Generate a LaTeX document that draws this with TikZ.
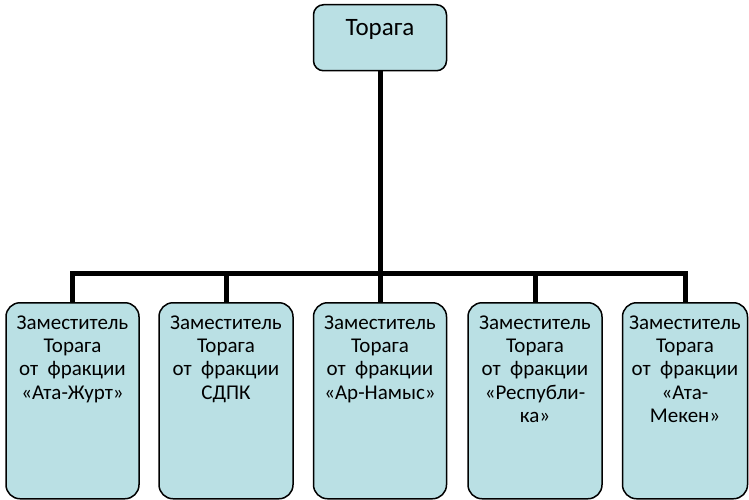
\documentclass[tikz,border=0pt]{standalone}
\usepackage{fontspec}
\setmainfont{Carlito}
\definecolor{boxfill}{HTML}{BAE0E4}
\begin{document}
\begin{tikzpicture}[x=1pt,y=-1pt,
  box/.style={draw=black,line width=1.5pt,fill=boxfill,rounded corners=14pt,inner sep=0pt,anchor=north},
  conn/.style={draw=black,line width=5pt,line join=miter}]
\useasboundingbox (0,0) rectangle (749,500);
\newcommand{\boxtext}[3]{\parbox[t][#2pt][t]{#1pt}{\centering\vspace{13pt}\fontsize{21}{23.3}\selectfont #3}}
\node[box,rounded corners=10pt] (top) at (380,4) {\parbox[t][66pt][t]{133pt}{\centering\vspace{15pt}\fontsize{25}{28}\selectfont Торага}};
\node[box] (b1) at (72.5,302) {\boxtext{133}{196}{Заместитель\\Торага\\от~~фракции\\«Ата-Журт»}};
\node[box] (b2) at (226,302) {\boxtext{134}{196}{Заместитель\\Торага\\от~~фракции\\СДПК}};
\node[box] (b3) at (380,302) {\boxtext{133}{196}{Заместитель\\Торага\\от~~фракции\\«Ар-Намыс»}};
\node[box] (b4) at (535,302) {\boxtext{134}{196}{Заместитель\\Торага\\от~~фракции\\«Республи-\\ка»}};
\node[box] (b5) at (685,302) {\boxtext{125}{196}{Заместитель\\Торага\\от~~фракции\\«Ата-\\Мекен»}};
\coordinate (bus) at (380,273);
\draw[conn] (top.south) -- (b3.north);
\draw[conn] (b1.north) |- (bus) -| (b5.north);
\draw[conn] (b2.north) -- (b2.north |- bus);
\draw[conn] (b4.north) -- (b4.north |- bus);
\end{tikzpicture}
\end{document}
